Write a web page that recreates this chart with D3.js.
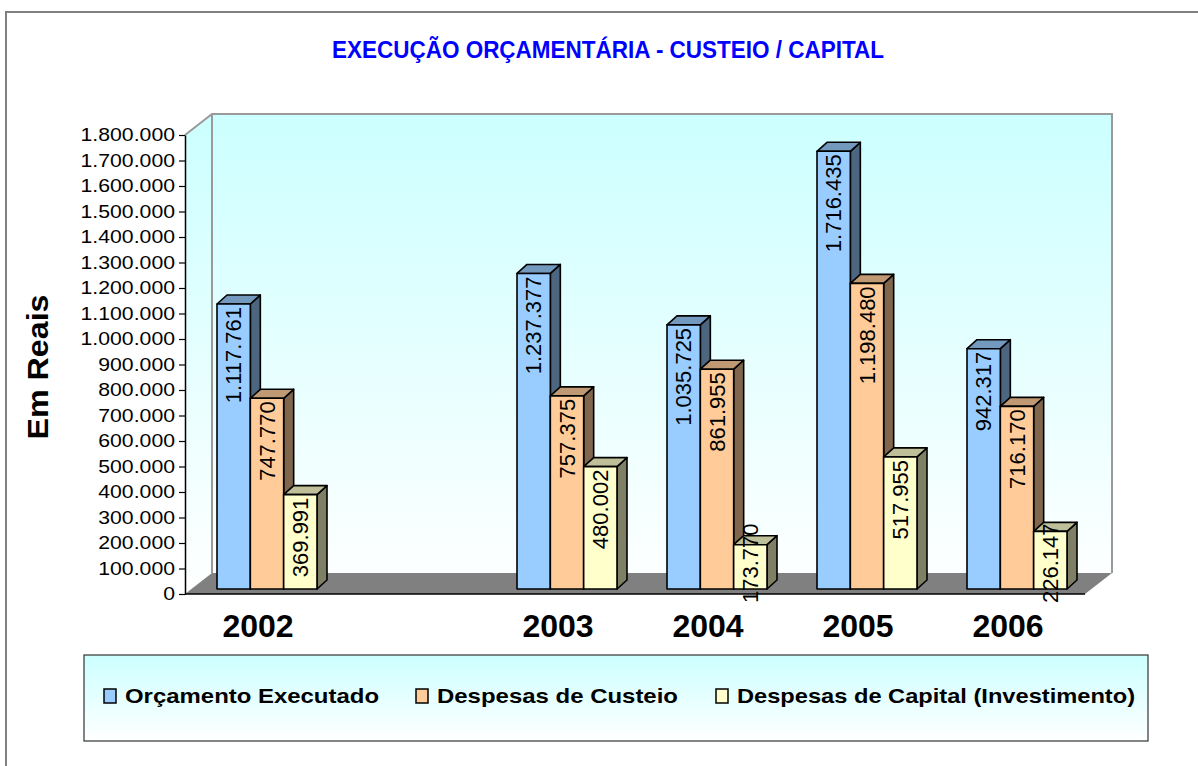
<!DOCTYPE html>
<html>
<head>
<meta charset="utf-8">
<script src="https://cdn.jsdelivr.net/npm/d3@7"></script>
<style>
    body { margin: 0; background: #fff; }
    svg { display: block; font-family: "Liberation Sans", Arial, sans-serif; }
</style>
</head>
<body>
<div id="chart"></div>
<script>
const categories = ["2002", "", "2003", "2004", "2005", "2006"];
const orcamento = [1117761, null, 1237377, 1035725, 1716435, 942317];
const custeio = [747770, null, 757375, 861955, 1198480, 716170];
const capital = [369991, null, 480002, 173770, 517955, 226147];
const seriesNames = ["Orçamento Executado", "Despesas de Custeio", "Despesas de Capital (Investimento)"];
const yTicks = [0, 100000, 200000, 300000, 400000, 500000, 600000, 700000, 800000, 900000,
    1000000, 1100000, 1200000, 1300000, 1400000, 1500000, 1600000, 1700000, 1800000];

const width = 1198, height = 766;

// front, top, side colours for each series
const colors = [
    { front: "#99ccff", top: "#7399bf", side: "#4c6680" },
    { front: "#ffcc99", top: "#bf9973", side: "#7f664c" },
    { front: "#ffffcc", top: "#bfbf99", side: "#7f7f66" }
];

const locale = d3.formatLocale({ decimal: ",", thousands: ".", grouping: [3], currency: ["R$", ""] });
const fmt = locale.format(",d");

const series = [orcamento, custeio, capital].map((vals, i) => ({
    name: seriesNames[i],
    color: colors[i],
    values: vals.map((v, j) => ({ cat: categories[j], value: v }))
}));

const x = d3.scaleBand().domain(categories).range([185, 1085]);
const y = d3.scaleLinear().domain([0, 1800000]).range([594, 135]);
const sub = d3.scaleBand().domain(seriesNames).range([0, x.bandwidth() * 2 / 3]);

const wallD = { dx: 27, dy: -21 };   // depth of the plot box
const barOff = { dx: 7, dy: -5 };    // where the bar fronts sit in depth
const barD = { dx: 10, dy: -9 };     // depth of a single bar

const svg = d3.select("#chart").append("svg")
    .attr("width", width)
    .attr("height", height);

const defs = svg.append("defs");
const wallGrad = defs.append("linearGradient")
    .attr("id", "wallGrad")
    .attr("gradientUnits", "userSpaceOnUse")
    .attr("x1", 0).attr("x2", 0)
    .attr("y1", y.range()[1] + wallD.dy).attr("y2", y.range()[0]);
wallGrad.append("stop").attr("offset", 0).attr("stop-color", "#ccffff");
wallGrad.append("stop").attr("offset", 1).attr("stop-color", "#ffffff");

const legGrad = defs.append("linearGradient")
    .attr("id", "legGrad")
    .attr("x1", 0).attr("x2", 0).attr("y1", 0).attr("y2", 1);
legGrad.append("stop").attr("offset", 0).attr("stop-color", "#ccffff");
legGrad.append("stop").attr("offset", 1).attr("stop-color", "#ffffff");

// outer chart frame
svg.append("rect")
    .attr("x", 6).attr("y", 12)
    .attr("width", 1300).attr("height", 900)
    .attr("fill", "none")
    .attr("stroke", "#808080")
    .attr("stroke-width", 2);

// title
svg.append("text")
    .attr("x", 608).attr("y", 58)
    .attr("text-anchor", "middle")
    .attr("fill", "#0000ff")
    .attr("font-weight", "bold")
    .attr("font-size", 23)
    .attr("textLength", 552)
    .attr("lengthAdjust", "spacingAndGlyphs")
    .text("EXECUÇÃO ORÇAMENTÁRIA - CUSTEIO / CAPITAL");

// 3D box: walls and floor
const [fx0, fx1] = x.range();
const [fy0, fy1] = y.range();
const pt = (px, py) => px + "," + py;

svg.append("polygon") // side wall
    .attr("points", [pt(fx0, fy1), pt(fx0 + wallD.dx, fy1 + wallD.dy), pt(fx0 + wallD.dx, fy0 + wallD.dy), pt(fx0, fy0)].join(" "))
    .attr("fill", "url(#wallGrad)");
svg.append("rect") // back wall
    .attr("x", fx0 + wallD.dx).attr("y", fy1 + wallD.dy)
    .attr("width", fx1 - fx0).attr("height", fy0 - fy1)
    .attr("fill", "url(#wallGrad)");
svg.append("path")
    .attr("d", `M${fx0},${fy1} L${fx0 + wallD.dx},${fy1 + wallD.dy} L${fx1 + wallD.dx},${fy1 + wallD.dy} L${fx1 + wallD.dx},${fy0 + wallD.dy}
        M${fx0 + wallD.dx},${fy1 + wallD.dy} L${fx0 + wallD.dx},${fy0 + wallD.dy}`)
    .attr("fill", "none")
    .attr("stroke", "#9a9a9a")
    .attr("stroke-width", 2);
svg.append("polygon") // floor
    .attr("points", [pt(fx0, fy0), pt(fx0 + wallD.dx, fy0 + wallD.dy), pt(fx1 + wallD.dx, fy0 + wallD.dy), pt(fx1, fy0)].join(" "))
    .attr("fill", "#808080");

// bars
const bars = svg.append("g");
categories.forEach((cat, j) => {
    series.forEach(s => {
        const v = s.values[j].value;
        if (v == null) return;
        const l = x(cat) + x.bandwidth() / 6 + sub(s.name) + barOff.dx;
        const r = l + sub.bandwidth();
        const t = y(v) + barOff.dy;
        const b = y(0) + barOff.dy;
        const g = bars.append("g")
            .attr("stroke", "#000")
            .attr("stroke-width", 1.6)
            .attr("stroke-linejoin", "round");
        g.append("polygon")
            .attr("points", [pt(r, t), pt(r + barD.dx, t + barD.dy), pt(r + barD.dx, b + barD.dy), pt(r, b)].join(" "))
            .attr("fill", s.color.side);
        g.append("polygon")
            .attr("points", [pt(l, t), pt(l + barD.dx, t + barD.dy), pt(r + barD.dx, t + barD.dy), pt(r, t)].join(" "))
            .attr("fill", s.color.top);
        g.append("rect")
            .attr("x", l).attr("y", t)
            .attr("width", r - l).attr("height", b - t)
            .attr("fill", s.color.front);
    });
});

// data labels
const labels = svg.append("g")
    .attr("font-size", 22)
    .attr("fill", "#000");
categories.forEach((cat, j) => {
    series.forEach(s => {
        const v = s.values[j].value;
        if (v == null) return;
        const cx = x(cat) + x.bandwidth() / 6 + sub(s.name) + barOff.dx + sub.bandwidth() / 2;
        const t = y(v) + barOff.dy;
        const b = y(0) + barOff.dy;
        const txt = labels.append("text")
            .attr("dy", "0.35em")
            .text(fmt(v));
        const len = txt.node().getComputedTextLength();
        const start = Math.min(t + 3 + len, b + 14);
        txt.attr("transform", `translate(${cx},${start}) rotate(-90)`);
    });
});

// y axis
const yAxis = d3.axisLeft(y)
    .tickValues(yTicks)
    .tickFormat(fmt)
    .tickSize(6)
    .tickSizeOuter(0);
const ya = svg.append("g")
    .attr("transform", `translate(${fx0},0)`)
    .call(yAxis);
ya.select(".domain").attr("stroke", "#000").attr("stroke-width", 1.5);
ya.selectAll(".tick line").attr("stroke", "#000").attr("stroke-width", 1.2);
ya.selectAll(".tick text")
    .attr("font-family", "\"Liberation Sans\", Arial, sans-serif")
    .attr("font-size", 18)
    .attr("fill", "#000")
    .attr("x", -8.5)
    .attr("transform", "scale(1.18,1)");

// x axis line and labels
svg.append("line")
    .attr("x1", fx0).attr("x2", fx1)
    .attr("y1", fy0).attr("y2", fy0)
    .attr("stroke", "#000")
    .attr("stroke-width", 1.5);
svg.append("g")
    .selectAll("text")
    .data(categories.filter(c => c !== ""))
    .join("text")
    .attr("x", d => x(d) + x.bandwidth() / 2 - 2)
    .attr("y", 637)
    .attr("text-anchor", "middle")
    .attr("font-weight", "bold")
    .attr("font-size", 32)
    .text(d => d);

// y axis title
svg.append("text")
    .attr("transform", "translate(48,367) rotate(-90)")
    .attr("text-anchor", "middle")
    .attr("font-weight", "bold")
    .attr("font-size", 29)
    .attr("textLength", 145)
    .attr("lengthAdjust", "spacingAndGlyphs")
    .text("Em Reais");

// legend
const legend = svg.append("g");
legend.append("rect")
    .attr("x", 84).attr("y", 655)
    .attr("width", 1064).attr("height", 86)
    .attr("fill", "url(#legGrad)")
    .attr("stroke", "#333")
    .attr("stroke-width", 1.2);
const legX = [104, 416, 716];
const legW = [254, 241, 398];
series.forEach((s, i) => {
    legend.append("rect")
        .attr("x", legX[i]).attr("y", 689)
        .attr("width", 12).attr("height", 14)
        .attr("fill", s.color.front)
        .attr("stroke", "#000")
        .attr("stroke-width", 1.5);
    legend.append("text")
        .attr("x", legX[i] + 21).attr("y", 703)
        .attr("font-weight", "bold")
        .attr("font-size", 21)
        .attr("textLength", legW[i])
        .attr("lengthAdjust", "spacingAndGlyphs")
        .text(s.name);
});
</script>
</body>
</html>
